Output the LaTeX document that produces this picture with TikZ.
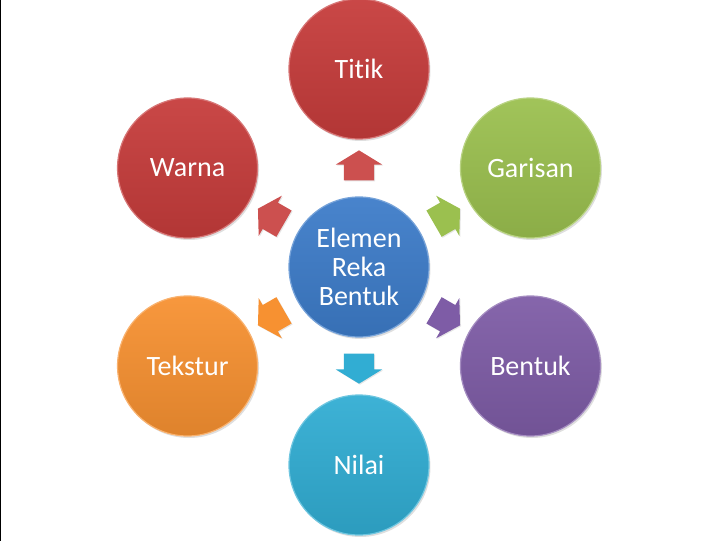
\documentclass[tikz,border=0pt]{standalone}
\usepackage{fontspec}
\setmainfont[Ligatures={NoCommon}]{Carlito}
\usepackage{xcolor}
\definecolor{ptred}{HTML}{C63C3B}
\definecolor{ptgreen}{HTML}{9BC04F}
\definecolor{ptpurple}{HTML}{7E5CA6}
\definecolor{ptcyan}{HTML}{31ADD3}
\definecolor{ptorange}{HTML}{F79131}
\definecolor{ptblue}{HTML}{3D7CC9}
\usepackage{tikz}
\usetikzlibrary{shapes.arrows, shadows}

\begin{document}
\begin{tikzpicture}[
    x=1pt, y=1pt,
    elem/.style={circle, minimum size=140pt, inner sep=0pt, top color=#1!94!white, bottom color=#1!90!black, draw=#1!70!white, line width=1.2pt, text=white, align=center, font=\fontsize{28}{29}\selectfont, drop shadow={opacity=0.25, shadow xshift=1.5pt, shadow yshift=-2pt}},
    link/.style={single arrow, fill=#1, minimum height=30pt, inner xsep=0pt, inner ysep=15pt, single arrow head extend=8pt, single arrow tip angle=117, drop shadow={opacity=0.2, shadow xshift=1pt, shadow yshift=-1pt}},
]
    \useasboundingbox (-359,-274) rectangle (359,267);
    \draw[line width=1.5pt] (-358.5,267) -- (-358.5,-274);

    \node[elem=ptblue] (core) at (0,0) {Elemen\\Reka\\Bentuk};

    \node[elem=ptred] (titik) at (90:198) {Titik};
    \node[elem=ptgreen] (garis) at (30:198) {Garisan};
    \node[elem=ptpurple] (bentuk) at (-30:198) {Bentuk};
    \node[elem=ptcyan] (nilai) at (-90:198) {Nilai};
    \node[elem=ptorange] (tekstur) at (210:198) {Tekstur};
    \node[elem=ptred] (warna) at (150:198) {Warna};

    \node[link=ptred!90!white, rotate=90] (a1) at (90:97) {};
    \node[link=ptgreen, rotate=30] (a2) at (30:97) {};
    \node[link=ptpurple, rotate=-30] (a3) at (-30:97) {};
    \node[link=ptcyan, rotate=-90] (a4) at (-90:97) {};
    \node[link=ptorange, rotate=210] (a5) at (210:97) {};
    \node[link=ptred!90!white, rotate=150] (a6) at (150:97) {};
\end{tikzpicture}
\end{document}
